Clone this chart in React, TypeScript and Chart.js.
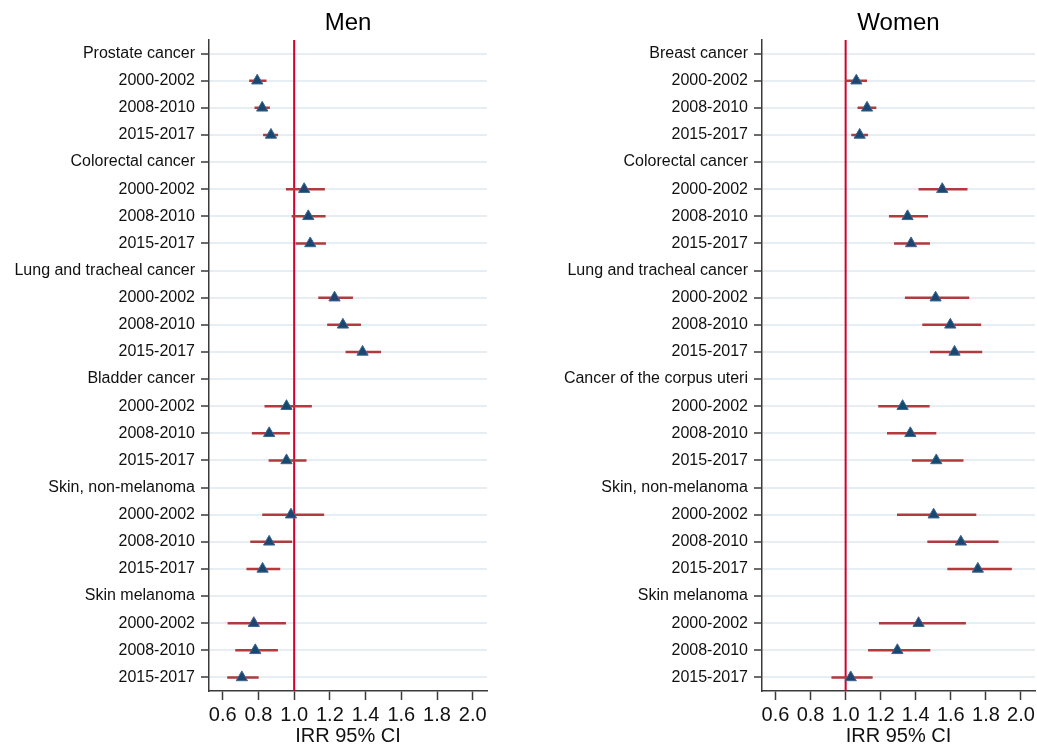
import React, { useEffect, useRef } from "react";
import { Chart, registerables } from "chart.js";

Chart.register(...registerables);

// ---------- Data ----------
const menLabels = [
  "Prostate cancer", "2000-2002", "2008-2010", "2015-2017",
  "Colorectal cancer", "2000-2002", "2008-2010", "2015-2017",
  "Lung and tracheal cancer", "2000-2002", "2008-2010", "2015-2017",
  "Bladder cancer", "2000-2002", "2008-2010", "2015-2017",
  "Skin, non-melanoma", "2000-2002", "2008-2010", "2015-2017",
  "Skin melanoma", "2000-2002", "2008-2010", "2015-2017",
];
const menIRR = [
  null, 0.793, 0.821, 0.870,
  null, 1.056, 1.079, 1.090,
  null, 1.226, 1.273, 1.383,
  null, 0.957, 0.860, 0.957,
  null, 0.982, 0.860, 0.823,
  null, 0.774, 0.782, 0.707,
];
const menLow = [
  null, 0.748, 0.778, 0.826,
  null, 0.954, 0.986, 1.008,
  null, 1.135, 1.185, 1.288,
  null, 0.834, 0.763, 0.857,
  null, 0.821, 0.754, 0.733,
  null, 0.627, 0.670, 0.625,
];
const menHigh = [
  null, 0.845, 0.864, 0.910,
  null, 1.172, 1.176, 1.178,
  null, 1.329, 1.374, 1.487,
  null, 1.099, 0.976, 1.069,
  null, 1.168, 0.989, 0.922,
  null, 0.954, 0.909, 0.801,
];

const womenLabels = [
  "Breast cancer", "2000-2002", "2008-2010", "2015-2017",
  "Colorectal cancer", "2000-2002", "2008-2010", "2015-2017",
  "Lung and tracheal cancer", "2000-2002", "2008-2010", "2015-2017",
  "Cancer of the corpus uteri", "2000-2002", "2008-2010", "2015-2017",
  "Skin, non-melanoma", "2000-2002", "2008-2010", "2015-2017",
  "Skin melanoma", "2000-2002", "2008-2010", "2015-2017",
];
const womenIRR = [
  null, 1.061, 1.122, 1.080,
  null, 1.551, 1.353, 1.373,
  null, 1.513, 1.597, 1.621,
  null, 1.325, 1.369, 1.517,
  null, 1.502, 1.657, 1.754,
  null, 1.416, 1.295, 1.029,
];
const womenLow = [
  null, 0.998, 1.068, 1.032,
  null, 1.416, 1.247, 1.276,
  null, 1.338, 1.437, 1.481,
  null, 1.186, 1.236, 1.378,
  null, 1.293, 1.466, 1.580,
  null, 1.190, 1.128, 0.919,
];
const womenHigh = [
  null, 1.122, 1.175, 1.128,
  null, 1.695, 1.470, 1.481,
  null, 1.705, 1.773, 1.779,
  null, 1.479, 1.517, 1.672,
  null, 1.745, 1.872, 1.948,
  null, 1.686, 1.483, 1.154,
];

const xTickValues = [0.6, 0.8, 1.0, 1.2, 1.4, 1.6, 1.8, 2.0];
const xMin = 0.523;
const xMax = 2.08;
const referenceValue = 1.0;
const xAxisTitle = "IRR 95% CI";

// ---------- Styles ----------
const FONT = "'Liberation Sans', Arial, Helvetica, sans-serif";
const TEXT = "#111111";
const AXIS = "#3a3a3a";
const GRID = "#e6eef3";
const NAVY = "#1a476f";
const CI_COLOR = "#b03a3e";
const REF_COLOR = "#d2002c";

type PanelProps = {
  title: string;
  labels: string[];
  irr: (number | null)[];
  low: (number | null)[];
  high: (number | null)[];
  width: number;
  height: number;
  yAxisWidth: number;
  padRight: number;
  left: number;
};

function Panel(props: PanelProps) {
  const ref = useRef<HTMLCanvasElement | null>(null);

  useEffect(() => {
    const canvas = ref.current;
    if (!canvas) return;
    const { title, labels, irr, low, high, yAxisWidth, padRight } = props;
    const n = labels.length;

    const points: { x: number; y: number }[] = [];
    irr.forEach((v, i) => {
      if (v !== null) points.push({ x: v, y: i });
    });

    const ciSegments: { x: number | null; y: number | null }[] = [];
    low.forEach((lo, i) => {
      const hi = high[i];
      if (lo !== null && hi !== null) {
        ciSegments.push({ x: lo, y: i });
        ciSegments.push({ x: hi, y: i });
        ciSegments.push({ x: null, y: null });
      }
    });

    const refLine = [
      { x: referenceValue, y: -0.5 },
      { x: referenceValue, y: n - 0.5 },
    ];

    const chart = new Chart(canvas, {
      type: "scatter",
      data: {
        datasets: [
          {
            label: "IRR",
            data: points,
            pointStyle: "triangle",
            pointRadius: 6.5,
            pointHoverRadius: 6.5,
            backgroundColor: NAVY,
            borderColor: "#3d6690",
            borderWidth: 1,
          },
          {
            label: "CI",
            data: ciSegments as any,
            showLine: true,
            spanGaps: false,
            borderColor: CI_COLOR,
            borderWidth: 2.5,
            pointRadius: 0,
            pointHoverRadius: 0,
          },
          {
            label: "ref",
            data: refLine,
            showLine: true,
            borderColor: REF_COLOR,
            borderWidth: 2,
            pointRadius: 0,
            pointHoverRadius: 0,
          },
        ],
      },
      options: {
        responsive: false,
        animation: false,
        devicePixelRatio: 1,
        layout: {
          autoPadding: false,
          padding: { top: 0, right: padRight, bottom: 0, left: 0 },
        },
        plugins: {
          legend: { display: false },
          tooltip: { enabled: false },
          title: {
            display: true,
            text: title,
            fullSize: false,
            color: "#000",
            font: { family: FONT, size: 24, weight: "normal", lineHeight: 1.2 },
            padding: { top: 9, bottom: 2.2 },
          },
        },
        scales: {
          x: {
            type: "linear",
            min: xMin,
            max: xMax,
            afterBuildTicks: (scale: any) => {
              scale.ticks = xTickValues.map((v) => ({ value: v }));
            },
            afterFit: (scale: any) => {
              scale.height = 55;
              scale.paddingLeft = 0;
              scale.paddingRight = 0;
            },
            ticks: {
              autoSkip: false,
              maxRotation: 0,
              minRotation: 0,
              padding: 3,
              color: TEXT,
              font: { family: FONT, size: 20 },
              callback: (v: any) => Number(v).toFixed(1),
            },
            grid: {
              display: true,
              drawOnChartArea: false,
              drawTicks: true,
              tickLength: 9,
              tickColor: AXIS,
              tickWidth: 1.5,
            },
            border: { display: true, color: AXIS, width: 1.5 },
            title: {
              display: true,
              text: xAxisTitle,
              color: TEXT,
              font: { family: FONT, size: 20, lineHeight: 1 },
              padding: 0,
            },
          },
          y: {
            type: "linear",
            reverse: true,
            min: -0.5,
            max: n - 0.5,
            afterBuildTicks: (scale: any) => {
              scale.ticks = labels.map((_, i) => ({ value: i }));
            },
            afterFit: (scale: any) => {
              scale.width = yAxisWidth;
              scale.paddingTop = 0;
              scale.paddingBottom = 0;
            },
            ticks: {
              autoSkip: false,
              padding: 6,
              color: TEXT,
              font: { family: FONT, size: 16 },
              callback: (v: any) => labels[Math.round(Number(v))] ?? "",
            },
            grid: {
              display: true,
              drawOnChartArea: true,
              drawTicks: true,
              color: GRID,
              lineWidth: 2,
              tickLength: 8,
              tickColor: AXIS,
              tickWidth: 1.5,
            },
            border: { display: true, color: AXIS, width: 1.5 },
          },
        },
      } as any,
    });

    return () => chart.destroy();
  }, []);

  return (
    <canvas
      ref={ref}
      width={props.width}
      height={props.height}
      style={{
        position: "absolute",
        left: props.left,
        top: 0,
        width: props.width,
        height: props.height,
        display: "block",
      }}
    />
  );
}

export default function App() {
  return (
    <div
      style={{
        position: "absolute",
        left: 0,
        top: 0,
        width: 1037,
        height: 746,
        background: "#ffffff",
        overflow: "hidden",
      }}
    >
      <Panel
        title="Men"
        labels={menLabels}
        irr={menIRR}
        low={menLow}
        high={menHigh}
        width={520}
        height={746}
        yAxisWidth={209}
        padRight={33}
        left={0}
      />
      <Panel
        title="Women"
        labels={womenLabels}
        irr={womenIRR}
        low={womenLow}
        high={womenHigh}
        width={517}
        height={746}
        yAxisWidth={242}
        padRight={2}
        left={520}
      />
    </div>
  );
}
